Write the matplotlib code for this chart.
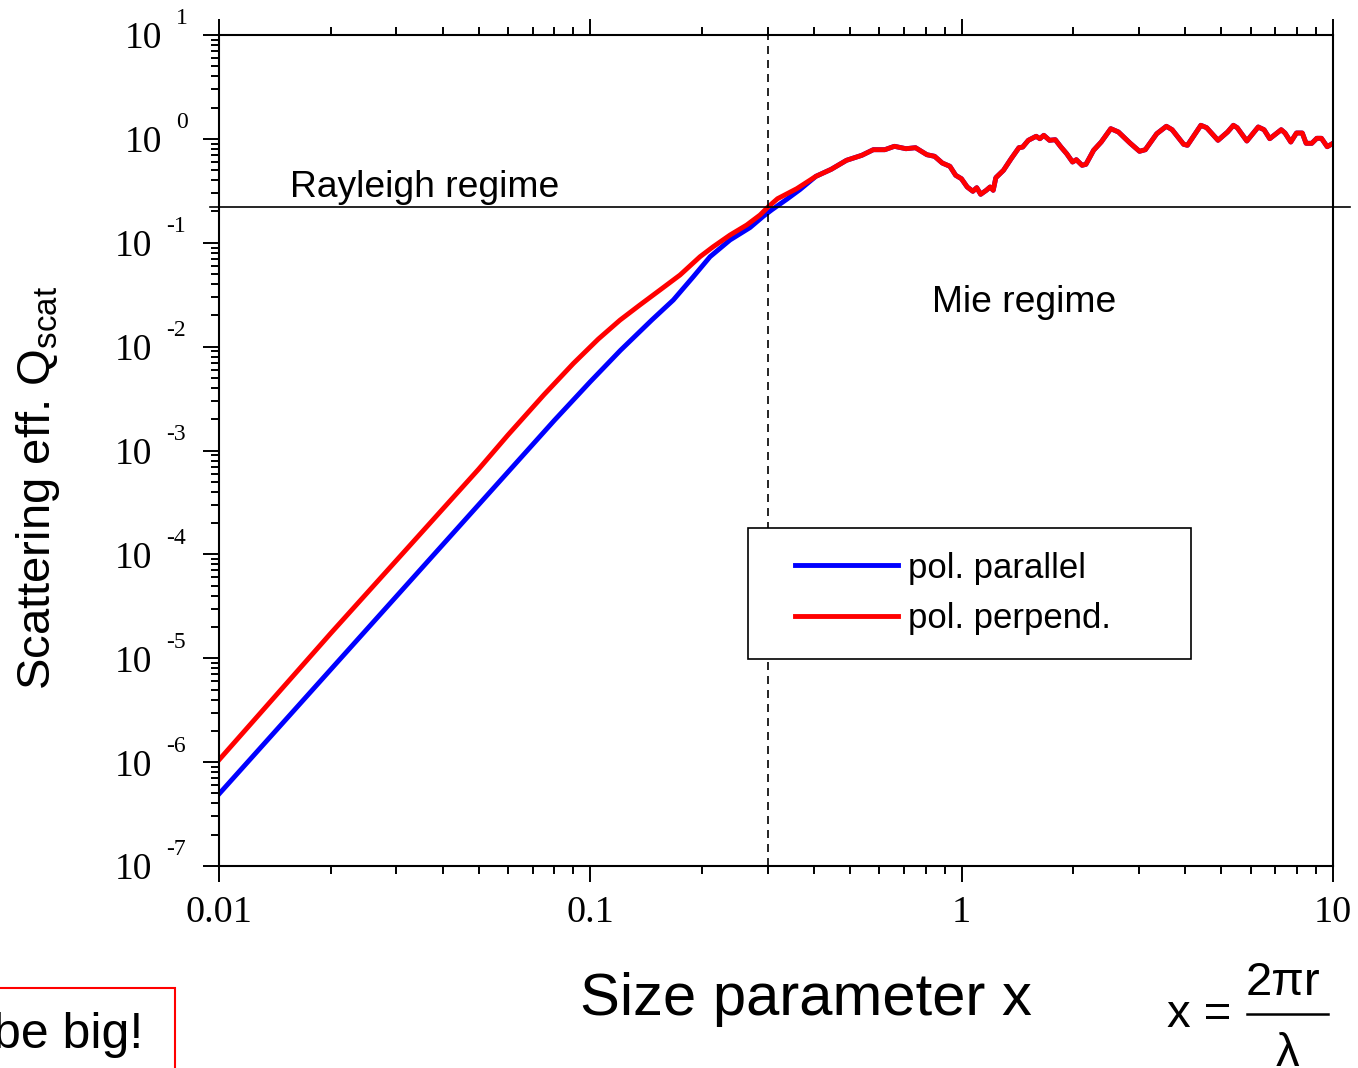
import numpy as np
import matplotlib
matplotlib.use("Agg")
import matplotlib.pyplot as plt
from matplotlib.patches import Rectangle
from matplotlib.lines import Line2D
from matplotlib.legend_handler import HandlerLine2D
from matplotlib.ticker import NullFormatter, LogLocator

plt.rcParams['font.family'] = ['Liberation Sans', 'DejaVu Sans']
plt.rcParams['mathtext.fontset'] = 'custom'
plt.rcParams['mathtext.rm'] = 'Liberation Sans'
plt.rcParams['mathtext.it'] = 'Liberation Sans:italic'

# Mie regime part (both polarisations nearly identical there)
x_mie = [0.3010, 0.3192, 0.3596, 0.4051, 0.4454, 0.4896, 0.5384, 0.5781, 0.6209, 0.6590,
         0.7078, 0.7511, 0.8062, 0.8454, 0.8867, 0.9296, 0.9636, 0.9984, 1.035, 1.072,
         1.098, 1.125, 1.165, 1.193, 1.216, 1.236, 1.296, 1.359, 1.426, 1.460,
         1.512, 1.587, 1.624, 1.664, 1.724, 1.787, 1.851, 1.918, 1.989, 2.036,
         2.110, 2.161, 2.266, 2.376, 2.521, 2.643, 2.839, 3.012, 3.123, 3.352,
         3.558, 3.688, 3.961, 4.055, 4.407, 4.568, 4.901, 5.201, 5.391, 5.521,
         5.861, 6.290, 6.521, 6.755, 7.253, 7.426, 7.697, 7.973, 8.265, 8.464,
         8.768, 9.045, 9.307, 9.647, 10.0]
q_mie = [0.2208, 0.2655, 0.3314, 0.4361, 0.5095, 0.6218, 0.6947, 0.7866, 0.7866, 0.8483,
         0.8042, 0.8222, 0.7039, 0.6794, 0.5856, 0.5445, 0.4460, 0.4135, 0.3441, 0.3129,
         0.3388, 0.2927, 0.3199, 0.3441, 0.3199, 0.4228, 0.4983, 0.6443, 0.8222, 0.8350,
         0.9689, 1.059, 1.004, 1.082, 0.9689, 0.9820, 0.8350, 0.7198, 0.5989, 0.6302,
         0.5567, 0.5691, 0.7762, 0.9331, 1.253, 1.165, 0.9127, 0.7592, 0.7866, 1.121,
         1.322, 1.225, 0.8867, 0.8673, 1.351, 1.281, 0.9689, 1.165, 1.351, 1.281,
         0.9539, 1.301, 1.225, 1.004, 1.225, 1.139, 0.9331, 1.139, 1.139, 0.9066,
         0.9066, 1.013, 1.013, 0.8406, 0.9066]

# Rayleigh part
x_perp_low = [0.01, 0.02, 0.05, 0.06, 0.075, 0.09, 0.105, 0.1202, 0.1360, 0.1540,
              0.1744, 0.1974, 0.2143, 0.2378, 0.2637, 0.2864]
q_perp_low = [1.05e-6, 1.74e-5, 6.6e-4, 1.41e-3, 3.44e-3, 6.88e-3, 0.0118, 0.0180, 0.0252,
              0.03508, 0.04893, 0.07339, 0.09162, 0.1187, 0.1482, 0.1850]
x_par_low = [0.01, 0.02, 0.05, 0.08, 0.1, 0.1205, 0.1463, 0.1673, 0.1894, 0.2101,
             0.2378, 0.2692, 0.2924, 0.3078, 0.3380, 0.3669]
q_par_low = [4.93e-7, 7.8e-6, 3.0e-4, 1.95e-3, 4.6e-3, 9.2e-3, 0.0180, 0.02811, 0.04711,
             0.07339, 0.1063, 0.1400, 0.1800, 0.2070, 0.2620, 0.3250]

labels = ['pol. parallel', 'pol. perpend.']
x_boundary = 0.301     # dashed line
q_boundary = 0.2208    # horizontal line
x_ticks = [0.01, 0.1, 1, 10]
x_ticklabels = ['0.01', '0.1', '1', '10']
y_exponents = [1, 0, -1, -2, -3, -4, -5, -6, -7]

x_par = x_par_low + x_mie[3:]
q_par = q_par_low + q_mie[3:]
x_perp = x_perp_low + x_mie
q_perp = q_perp_low + q_mie

W, H = 1358, 1068
fig = plt.figure(figsize=(W / 100, H / 100), dpi=100)
ax = fig.add_axes([219 / W, 1 - 866 / H, 1114 / W, 831 / H])

ax.plot(x_par, q_par, color='#0000ff', lw=3.5, label=labels[0])
ax.plot(x_perp, q_perp, color='#ff0000', lw=3.5, label=labels[1])

ax.set_xscale('log')
ax.set_yscale('log')
ax.set_xlim(0.01, 10)
ax.set_ylim(1e-7, 10)

ax.axvline(x_boundary, color='black', lw=1.2, ls=(0, (4.8, 3.6)))
ax.axhline(q_boundary, xmin=-0.008, xmax=1.0153, color='black', lw=1.2, clip_on=False)

for s in ax.spines.values():
    s.set_linewidth(1.5)

ax.set_xticks(x_ticks, labels=x_ticklabels)
ax.xaxis.set_minor_locator(LogLocator(base=10, subs=np.arange(2, 10), numticks=20))
ax.xaxis.set_minor_formatter(NullFormatter())
ax.set_yticks([10.0 ** e for e in y_exponents])
ax.yaxis.set_minor_locator(LogLocator(base=10, subs=np.arange(2, 10), numticks=20))
ax.yaxis.set_minor_formatter(NullFormatter())
ax.tick_params(which='both', direction='out', top=True, right=False, width=1.4)
ax.tick_params(which='major', length=11.5)
ax.tick_params(which='minor', length=5.8)
ax.tick_params(axis='y', labelleft=False)
ax.tick_params(axis='x', labelsize=27.5, pad=10)
for t in ax.get_xticklabels():
    t.set_family('Liberation Serif')

# y tick labels "10" with raised exponent
for e in y_exponents:
    off = -41 if e >= 0 else -48.2
    ax.annotate('10', xy=(0, 10.0 ** e), xycoords=('axes fraction', 'data'),
                xytext=(off, -9.7), textcoords='offset points', ha='right', va='baseline',
                fontsize=27, family='Liberation Serif', annotation_clip=False)
    ax.annotate(str(e), xy=(0, 10.0 ** e), xycoords=('axes fraction', 'data'),
                xytext=(off + 10, 7.6), textcoords='offset points', ha='left', va='baseline',
                fontsize=17, family='Liberation Serif', annotation_clip=False)

ax.text(0.0637, 0.8051, 'Rayleigh regime', transform=ax.transAxes, fontsize=26.8,
        ha='left', va='baseline')
ax.text(0.640, 0.6667, 'Mie regime', transform=ax.transAxes, fontsize=26.8,
        ha='left', va='baseline')

leg = ax.legend(loc='upper left', bbox_to_anchor=(0.4749, 0.2491, 0.3976, 0.1576),
                mode='expand', borderaxespad=0, fontsize=25, fancybox=False,
                edgecolor='black', framealpha=1, borderpad=0.68, labelspacing=0.5,
                handlelength=3.63, handletextpad=0.3,
                handler_map={Line2D: HandlerLine2D(xpad=0.66)})
leg.get_frame().set_linewidth(1.2)

fig.text(38 / W, 1 - 488 / H, r'Scattering eff. Q$_{\mathrm{scat}}$', rotation=90,
         fontsize=34, ha='center', va='center')
fig.text(806 / W, 1 - 1015 / H, 'Size parameter x', fontsize=43, ha='center',
         va='baseline')

# formula x = 2*pi*r / lambda
fig.text(1167 / W, 1 - 1027 / H, 'x =', fontsize=34, ha='left', va='baseline')
fig.text(1283 / W, 1 - 995 / H, '2\u03c0r', fontsize=34, ha='center', va='baseline')
fig.add_artist(Line2D([1247 / W, 1328 / W], [1 - 1014 / H, 1 - 1014 / H],
                      transform=fig.transFigure, color='black', lw=1.8))
fig.text(1287 / W, 1 - 1066 / H, '\u03bb', fontsize=34, ha='center', va='baseline')

# partially visible red note box
fig.add_artist(Rectangle((-10 / W, -20 / H), 185 / W, (1068 - 988 + 20) / H,
                         transform=fig.transFigure, fill=False, edgecolor='#ff0000',
                         lw=1.5, clip_on=False))
fig.text(143 / W, 1 - 1048 / H, 'be big!', fontsize=36, ha='right', va='baseline')

fig.savefig('out.png', dpi=100)
